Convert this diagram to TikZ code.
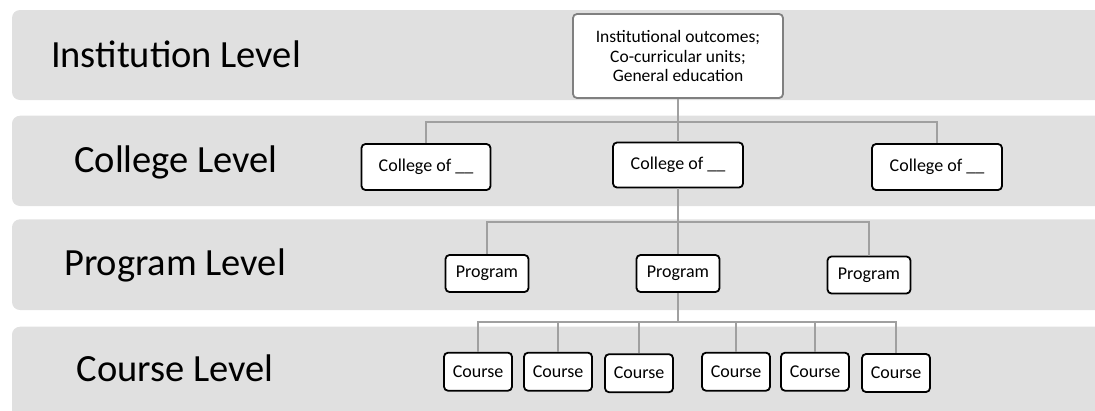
\documentclass[tikz,border=0pt]{standalone}
\usepackage{fontspec}
\setmainfont{Carlito}
\usepackage{tikz}
\usetikzlibrary{calc}

\definecolor{bandgray}{HTML}{E0E0E0}
\definecolor{linkgray}{HTML}{A0A0A0}

\begin{document}
\begin{tikzpicture}[x=1pt, y=-1pt,
    band/.style={fill=bandgray, rounded corners=8pt},
    level/.style={anchor=base, inner sep=0pt, font=\fontsize{38.5}{46}\selectfont},
    box/.style={draw, fill=white, rounded corners=4pt, line width=1.8pt, inner sep=0pt, font=\fontsize{18}{21}\selectfont},
    link/.style={draw=linkgray, line width=2.2pt}]
        \useasboundingbox (0,0) rectangle (1095,410);

        \fill[band] (12,10) rectangle (1120,100);
        \fill[band] (12,115.7) rectangle (1120,206);
        \fill[band] (12,219.3) rectangle (1120,310);
        \fill[band] (12,326.7) rectangle (1120,430);

        \node[level] (L1) at (176,67.3) {Institution Level};
        \node[level] (L2) at (176,172.3) {College Level};
        \node[level] (L3) at (175,275.7) {Program Level};
        \node[level] (L4) at (175,381) {Course Level};

        \node[box, draw=gray, minimum width=210pt, minimum height=84pt, align=center,
              font=\fontsize{17.5}{19.8}\selectfont] (I) at (678,56) {Institutional outcomes;\\Co-curricular units;\\General education};

        \node[box, minimum width=129pt, minimum height=46pt] (C1) at (426,167) {College of \_\_};
        \node[box, minimum width=130pt, minimum height=45pt] (C2) at (678,165) {College of \_\_};
        \node[box, minimum width=130pt, minimum height=46pt] (C3) at (937,167) {College of \_\_};

        \node[box, minimum width=83pt, minimum height=37pt] (P1) at (487,273.5) {Program};
        \node[box, minimum width=83pt, minimum height=37pt] (P2) at (678,273.5) {Program};
        \node[box, minimum width=83pt, minimum height=37pt] (P3) at (869,275) {Program};

        \node[box, minimum width=68pt, minimum height=38pt] (K1) at (478,371.7) {Course};
        \node[box, minimum width=68pt, minimum height=38pt] (K2) at (558,371.7) {Course};
        \node[box, minimum width=68pt, minimum height=38pt] (K3) at (639,373.2) {Course};
        \node[box, minimum width=68pt, minimum height=38pt] (K4) at (736,371.7) {Course};
        \node[box, minimum width=68pt, minimum height=38pt] (K5) at (815,371.7) {Course};
        \node[box, minimum width=68pt, minimum height=38pt] (K6) at (896,373) {Course};

        \coordinate (cbar) at (678,122.3);
        \coordinate (pbar) at (678,222.3);
        \coordinate (kbar) at (678,321.7);

        \draw[link] (I.south) -- (C2.north);
        \draw[link] (C1.north) |- (cbar) -| (C3.north);
        \draw[link] (C2.south) -- (P2.north);
        \draw[link] (P1.north) |- (pbar) -| (P3.north);
        \draw[link] (P2.south) -- (kbar);
        \draw[link] (K1.north) |- (kbar) -| (K6.north);
        \draw[link] (K2.north) -- (K2.north |- kbar);
        \draw[link] (K3.north) -- (K3.north |- kbar);
        \draw[link] (K4.north) -- (K4.north |- kbar);
        \draw[link] (K5.north) -- (K5.north |- kbar);
    \end{tikzpicture}
\end{document}
